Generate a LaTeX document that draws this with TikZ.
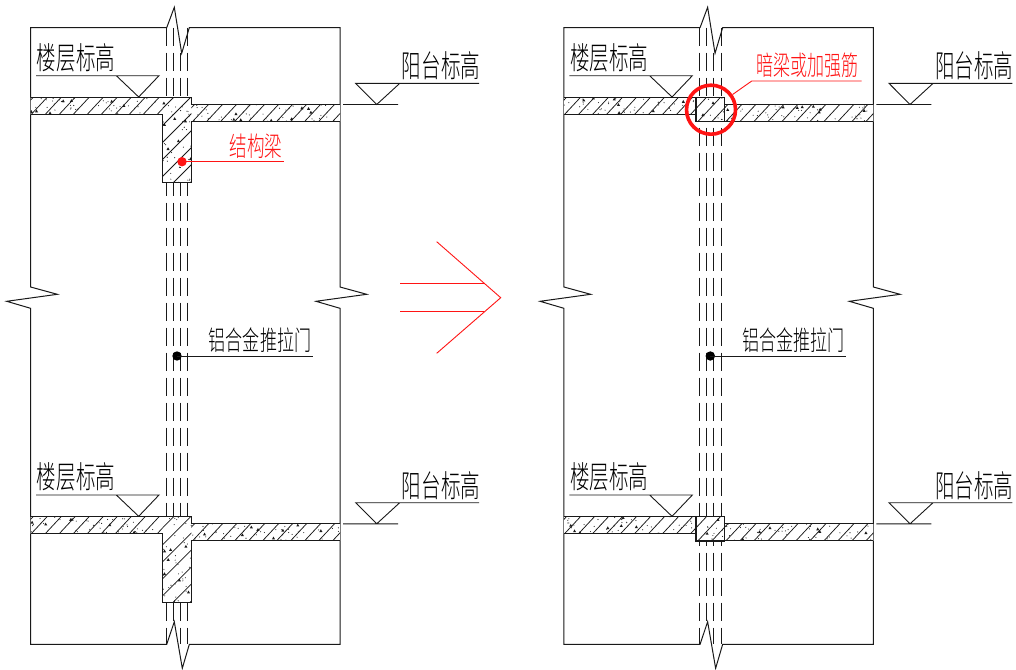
\documentclass[tikz,border=0pt]{standalone}
\usepackage{fontspec}
\setmainfont{Liberation Sans}
\newfontfamily\cjk{Noto Sans CJK SC Light}
\definecolor{cadred}{RGB}{255,20,20}
\definecolor{cadink}{RGB}{25,25,25}
\tikzset{
  wallline/.style={draw=cadink,line width=1pt,line join=miter},
  thinline/.style={draw=cadink,line width=0.9pt},
  glassline/.style={draw=cadink,line width=0.9pt,dash pattern=on 18.5pt off 6.5pt},
  hatchline/.style={draw=cadink,line width=0.75pt},
  redline/.style={draw=cadred,line width=0.9pt},
  bigtext/.style={inner sep=0pt,text=black},
  dotmark/.style={circle,inner sep=0pt,minimum size=9.4pt,fill=#1}
}
\newcommand\cadtxt[3]{{\cjk\fontsize{#1}{#1}\selectfont\scalebox{#2}[1]{#3}}}
\newcommand\specks[6]{%
  \pgfmathsetseed{#6}%
  \foreach \k in {1,...,#5}{%
    \pgfmathsetmacro\px{#1+rnd*(#3-#1)}%
    \pgfmathsetmacro\py{#2+rnd*(#4-#2)}%
    \fill[cadink] (\px,\py) circle (0.55);
  }%
  \foreach \k in {1,...,\numexpr#5/5\relax}{%
    \pgfmathsetmacro\px{#1+rnd*(#3-#1)}%
    \pgfmathsetmacro\py{#2+rnd*(#4-#2)}%
    \fill[cadink] (\px-1.5,\py+1.2) -- (\px+1.6,\py+1.2) -- (\px,\py-1.6) -- cycle;
  }%
}
\newcommand\hatching{%
  \foreach \c in {-100,-86,...,350}{%
    \draw[hatchline] (\c,210) -- (\c+112,90);
  }%
}
\newcommand\hatchingwide{%
  \foreach \c in {20,37,...,190}{%
    \draw[hatchline] (\c,200) -- (\c+110,90);
  }%
}
% one floor, left-panel type (structural beam below slab)
\newcommand\floorbeam[1]{%
  \begin{scope}
    \clip (30.5,97.5) -- (191.3,97.5) -- (191.3,104.5) -- (340,104.5) -- (340,121.5) -- (191.3,121.5) -- (191.3,182.7) -- (162.7,182.7) -- (162.7,114.5) -- (30.5,114.5) -- cycle;
    \fill[white] (0,90) rectangle (360,190);
    \begin{scope}
      \clip (0,90) rectangle (162.7,125) (191.3,90) rectangle (360,125);
      \hatching
    \end{scope}
    \begin{scope}
      \clip (162.7,90) rectangle (191.3,190);
      \hatchingwide
    \end{scope}
    \specks{30.5}{97.5}{163}{114.5}{36}{#1}
    \specks{191}{104.5}{340}{121.5}{40}{#1+1}
    \specks{163}{97.5}{191}{182.7}{36}{#1+2}
  \end{scope}
  \draw[wallline] (30.5,97.5) -- (191.3,97.5) -- (191.3,104.5) -- (340,104.5) (340,121.5) -- (191.3,121.5) -- (191.3,182.7) -- (162.7,182.7) -- (162.7,114.5) -- (30.5,114.5);
}
% one floor, right-panel type (concealed beam within slab)
\newcommand\floorhidden[1]{%
  \begin{scope}
    \clip (30.5,97.5) rectangle (162.7,114.5) (162.7,97.5) rectangle (191.3,121.7) (191.3,104.5) rectangle (340,121.5);
    \fill[white] (0,90) rectangle (360,130);
    \hatching
    \specks{30.5}{97.5}{163}{114.5}{36}{#1}
    \specks{191}{104.5}{340}{121.5}{40}{#1+1}
    \specks{163}{97.5}{191}{121.5}{8}{#1+2}
  \end{scope}
  \draw[wallline] (30.5,97.5) -- (162.7,97.5) (30.5,114.5) -- (162.7,114.5) (191.3,104.5) -- (340,104.5) (191.3,121.5) -- (340,121.5);
  \draw[wallline,line width=1.2pt] (162.7,97.5) rectangle (191.3,121.7);
}
% level marks and their labels, one floor
\newcommand\levels{%
  \coordinate (fa) at (36,75.7);
  \coordinate (fb) at (159,75.7);
  \coordinate (fc) at (116.3,75.7);
  \coordinate (fd) at (138.7,97);
  \draw[thinline] (fa) -- (fb) -- (fd) -- (fc);
  \node[bigtext] (ft) at (76,57.5) {\cadtxt{31}{0.63}{楼层标高}};
  \coordinate (ba) at (355.7,83.4);
  \coordinate (bb) at (479,83.4);
  \coordinate (bc) at (399.7,83.4);
  \coordinate (bd) at (376.7,104.5);
  \coordinate (be) at (343,104.5);
  \coordinate (bf) at (398,104.5);
  \draw[thinline] (bb) -- (ba) -- (bd) -- (bc) (be) -- (bf);
  \node[bigtext] (bt) at (441,66) {\cadtxt{31}{0.63}{阳台标高}};
}
\newcommand\shell{%
  % glass lines
  \coordinate (g1a) at (166.4,27.7); \coordinate (g1b) at (166.4,644.4);
  \coordinate (g2a) at (173.4,27.7); \coordinate (g2b) at (173.4,623);
  \coordinate (g3a) at (180.6,52.7); \coordinate (g3b) at (180.6,644.4);
  \coordinate (g4a) at (187.7,27.7); \coordinate (g4b) at (187.7,644.4);
  \draw[glassline] (g1a) -- (g1b);
  \draw[glassline] (g2a) -- (g2b);
  \draw[glassline] (g3a) -- (g3b);
  \draw[glassline] (g4a) -- (g4b);
  % outline with break marks
  \draw[wallline] (166.7,27.7) -- (174.3,7.3) -- (181.7,53.3) -- (189.3,27.7) -- (340,27.7)
     -- (340,287) -- (366.7,294.3) -- (316,301.3) -- (340,308.3)
     -- (340,644.4) -- (189.3,644.4) -- (182.3,668.3) -- (174.3,621.7) -- (166.7,644.4)
     -- (30.6,644.4) -- (30.6,308.3) -- (6.7,301.3) -- (57.3,294.3) -- (30.6,287) -- (30.6,27.7) -- cycle;
}
\newcommand\doorlabel{%
  \node[dotmark=black] (ddot) at (177,356) {};
  \coordinate (dend) at (313,356);
  \draw[thinline] (ddot.center) -- (dend);
  \node[bigtext] (dt) at (260,340.5) {\cadtxt{27}{0.63}{铝合金推拉门}};
}
\begin{document}
\begin{tikzpicture}[x=1pt,y=-1pt]
\useasboundingbox (0,0) rectangle (1016,669);
\fill[white] (0,0) rectangle (1016,669);
% ---------- left panel
\begin{scope}[name prefix=L-]
  \shell
  \floorbeam{11}
  \begin{scope}[shift={(0,419.3)},name prefix=L2-]\floorbeam{21}\end{scope}
  \levels
  \begin{scope}[shift={(0,419.3)},name prefix=L3-]\levels\end{scope}
  \doorlabel
  \node[dotmark=cadred] (bdot) at (182,161.7) {};
  \coordinate (bend) at (283.5,161.7);
  \draw[redline] (bdot.center) -- (bend);
  \node[bigtext,text=cadred] (bt2) at (256,146) {\cadtxt{27}{0.65}{结构梁}};
\end{scope}
% ---------- arrow
\coordinate (ah) at (500.7,297.7);
\coordinate (at) at (436.7,241.7);
\coordinate (ab) at (436.7,353.3);
\coordinate (s1a) at (400,283);
\coordinate (s1b) at (484,283);
\coordinate (s2a) at (400,311);
\coordinate (s2b) at (484,311);
\draw[redline] (at) -- (ah) -- (ab);
\draw[redline] (s1a) -- (s1b);
\draw[redline] (s2a) -- (s2b);
% ---------- right panel
\begin{scope}[shift={(533.33,0)},name prefix=R-]
  \shell
  \floorhidden{31}
  \begin{scope}[shift={(0,419.3)},name prefix=R2-]\floorhidden{41}\end{scope}
  \levels
  \begin{scope}[shift={(0,419.3)},name prefix=R3-]\levels\end{scope}
  \doorlabel
  \node[circle,draw=cadred,line width=3.6pt,inner sep=0pt,minimum size=49pt] (ring) at (177.7,109.7) {};
  \coordinate (lk) at (218.4,81);
  \coordinate (lend) at (328.4,81);
  \draw[redline] (ring) -- (lk) -- (lend);
  \node[bigtext,text=cadred] (rt) at (274.5,65.5) {\cadtxt{27}{0.63}{暗梁或加强筋}};
\end{scope}
\end{tikzpicture}
\end{document}
